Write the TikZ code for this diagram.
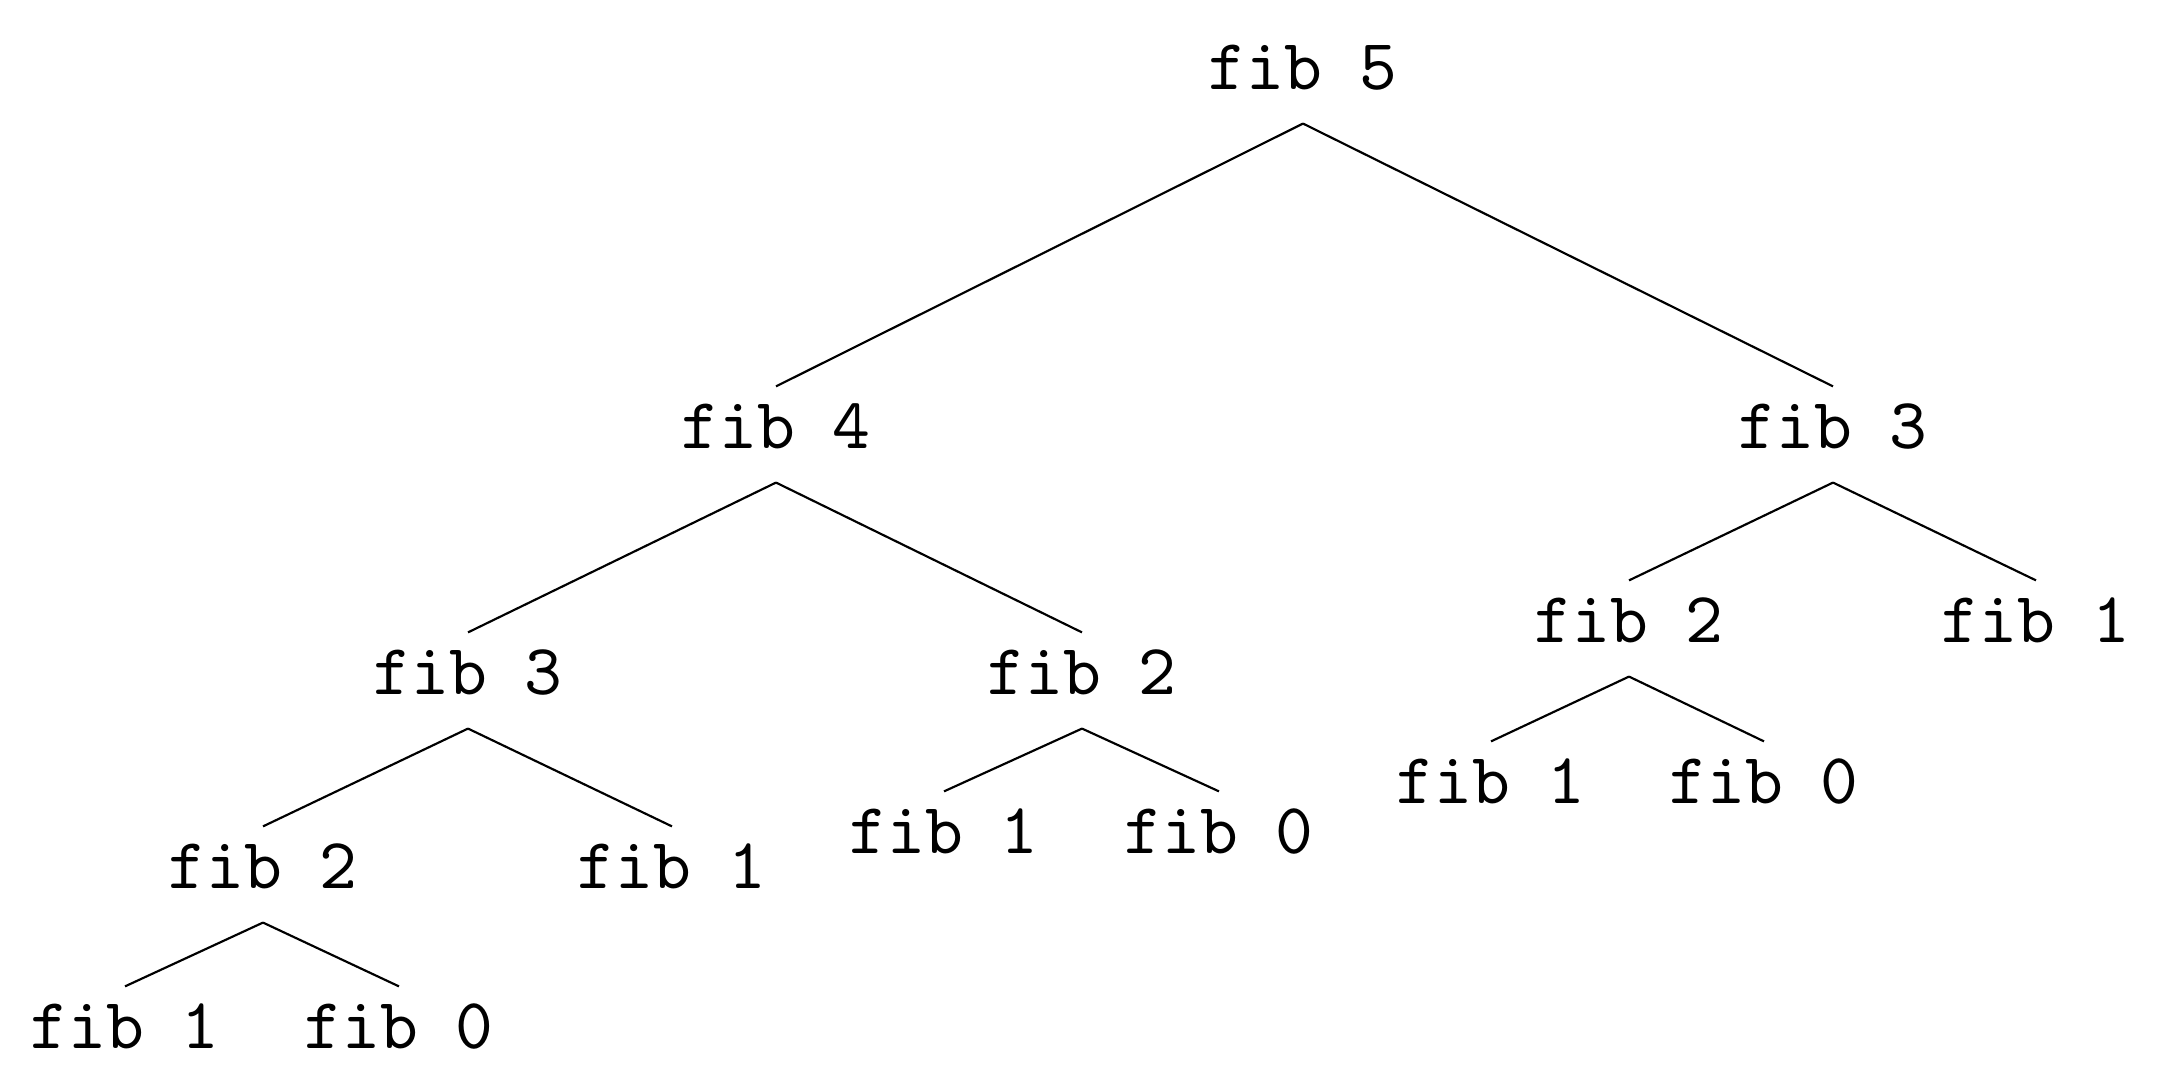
\documentclass[tikz,border=0pt]{standalone}
\usepackage{tikz}

\tikzset{
  fibnode/.style={font=\fontencoding{OT1}\fontfamily{cmtt}\selectfont,
    anchor=base, inner xsep=0pt,
    inner ysep=2.3pt, text height=6.11pt, text depth=2.35pt}
}

\begin{document}
\begin{tikzpicture}[x=0.1389pt, y=-0.1389pt, line width=0.3pt]
  \useasboundingbox (0,0) rectangle (2168,1082);

  % level 0 and 1
  \node[fibnode] (f5)   at (1303, 89)  {fib 5};
  \node[fibnode] (f4)   at (776, 448)  {fib 4};
  \node[fibnode] (f3r)  at (1833, 448) {fib 3};

  % left subtree
  \node[fibnode] (f3l)  at (468, 694)  {fib 3};
  \node[fibnode] (f2m)  at (1082, 694) {fib 2};
  \node[fibnode] (f2l)  at (263, 888)  {fib 2};
  \node[fibnode] (f1a)  at (672, 888)  {fib 1};
  \node[fibnode] (f1m)  at (944, 853)  {fib 1};
  \node[fibnode] (f0m)  at (1219, 853) {fib 0};
  \node[fibnode] (f1l)  at (125, 1048) {fib 1};
  \node[fibnode] (f0l)  at (399, 1048) {fib 0};

  % right subtree
  \node[fibnode] (f2r)  at (1629, 642) {fib 2};
  \node[fibnode] (f1r)  at (2036, 642) {fib 1};
  \node[fibnode] (f1rb) at (1491, 803) {fib 1};
  \node[fibnode] (f0rb) at (1764, 803) {fib 0};

  \foreach \p/\c in {f5/f4, f5/f3r, f4/f3l, f4/f2m, f3l/f2l, f3l/f1a,
                     f2l/f1l, f2l/f0l, f2m/f1m, f2m/f0m, f3r/f2r, f3r/f1r,
                     f2r/f1rb, f2r/f0rb}
    \draw (\p.south) -- (\c.north);
\end{tikzpicture}
\end{document}
